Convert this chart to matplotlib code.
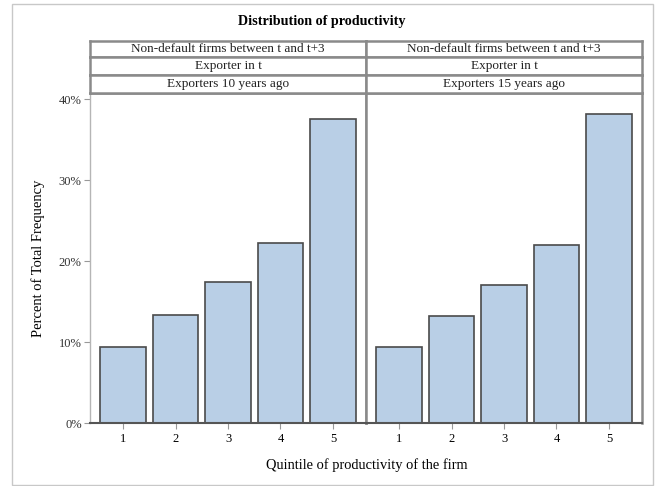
import numpy as np
import matplotlib
matplotlib.use("Agg")
import matplotlib.pyplot as plt
from matplotlib.patches import Rectangle
from matplotlib.ticker import FuncFormatter

# data
quintiles = [1, 2, 3, 4, 5]
pct_10y = [9.45, 13.4, 17.4, 22.2, 37.6]
pct_15y = [9.45, 13.2, 17.1, 22.05, 38.2]
strip_top = "Non-default firms between t and t+3"
strip_mid = "Exporter in t"
strip_bot = ["Exporters 10 years ago", "Exporters 15 years ago"]
yticks = [0, 10, 20, 30, 40]

plt.rcParams["font.family"] = ["Liberation Serif", "DejaVu Serif"]

W, H = 656, 486
fig = plt.figure(figsize=(W / 100, H / 100), dpi=100)

def box(x0, y0, x1, y1):
    # pixel box (top-left origin) -> figure fraction rect
    return [x0 / W, 1 - y1 / H, (x1 - x0) / W, (y1 - y0) / H]

# outer frame
fig.patches.append(Rectangle((12 / W, 1 - 485 / H), 641 / W, 481 / H,
                             transform=fig.transFigure, fill=False,
                             edgecolor="#c8c8c8", lw=1))

fill = "#b9cfe6"
edge = "#4a4a4a"
grey = "#8a8a8a"

panels = [(90, 366, pct_10y, strip_bot[0]), (366, 642, pct_15y, strip_bot[1])]
axes = []
for i, (x0, x1, vals, lab) in enumerate(panels):
    ax = fig.add_axes(box(x0, 93, x1, 423))
    ax.bar(quintiles, vals, width=0.87, color=fill, edgecolor=edge, lw=1.2)
    ax.set_xlim(0.37, 5.63)
    ax.set_ylim(0, 40.8)
    ax.set_xticks(quintiles)
    ax.tick_params(axis="x", length=4, color="#999999", labelsize=9, pad=3)
    for s in ["top", "left", "right"]:
        ax.spines[s].set_color(grey)
        ax.spines[s].set_linewidth(1.8)
    ax.spines["bottom"].set_color("#555555")
    ax.spines["bottom"].set_linewidth(1.5)
    if i == 0:
        ax.spines["left"].set_color("#b5b5b5")
        ax.spines["left"].set_linewidth(1)
        ax.set_yticks(yticks)
        ax.yaxis.set_major_formatter(FuncFormatter(lambda v, p: f"{v:.0f}%"))
        ax.tick_params(axis="y", length=4, color="#999999", labelsize=9,
                       pad=2, labelcolor="#333333")
        ax.set_ylabel("Percent of Total Frequency", fontsize=10.5, labelpad=10)
    else:
        ax.set_yticks([])
    axes.append(ax)

    # strip headers
    rows = [(41, 57, strip_top), (57, 75, strip_mid), (75, 93, lab)]
    for y0, y1, txt in rows:
        sa = fig.add_axes(box(x0, y0, x1, y1))
        sa.set_xticks([]); sa.set_yticks([])
        for s in sa.spines.values():
            s.set_color(grey)
            s.set_linewidth(1.8)
        sa.text(0.5, 0.5, txt, ha="center", va="center", fontsize=9.5,
                transform=sa.transAxes, color="#222222")

fig.text(322 / W, 1 - 22 / H, "Distribution of productivity", ha="center",
         va="center", fontsize=10.2, fontweight="bold")
fig.text(367 / W, 1 - 465 / H, "Quintile of productivity of the firm",
         ha="center", va="center", fontsize=10.4)

fig.savefig("out.png", dpi=100)
